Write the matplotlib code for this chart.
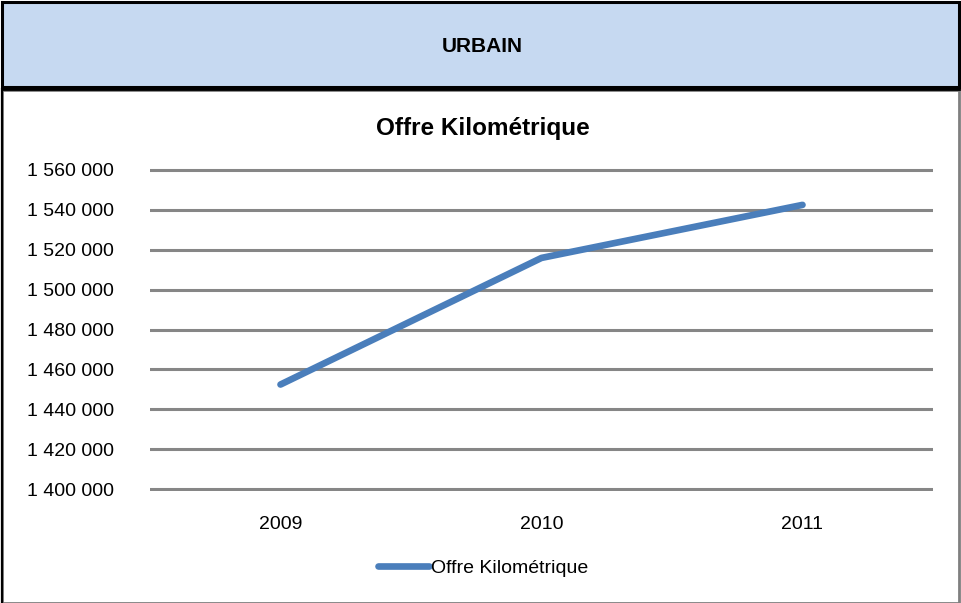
import matplotlib
matplotlib.use("Agg")
import matplotlib.pyplot as plt
from matplotlib.patches import Rectangle
from matplotlib.ticker import FuncFormatter

years = ["2009", "2010", "2011"]
offre_km = [1452400, 1515900, 1542500]
y_ticks = list(range(1400000, 1560001, 20000))

series_label = "Offre Kilométrique"
chart_title = "Offre Kilométrique"
header_text = "URBAIN"

plt.rcParams["font.family"] = ["Liberation Sans", "DejaVu Sans"]

fig = plt.figure(figsize=(9.62, 6.03), dpi=100)
W, H = 962, 603

# header band
fig.patches.append(Rectangle((2 / W, 1 - 87 / H), 957 / W, 85 / H, transform=fig.transFigure,
                             facecolor="#C6D9F1", edgecolor="black", linewidth=2.2, zorder=-5))
fig.text(482 / W, 1 - 47 / H, header_text, ha="center", va="center", fontsize=15, fontweight="bold")

# chart frame
fig.patches.append(Rectangle((2 / W, 0), 957 / W, 1 - 90 / H, transform=fig.transFigure,
                             facecolor="white", edgecolor="#7F7F7F", linewidth=2.0, zorder=-5))
fig.lines.append(plt.Line2D([2 / W, 959 / W], [1 - 89 / H, 1 - 89 / H], transform=fig.transFigure,
                            color="black", linewidth=2.0, zorder=-4))
fig.lines.append(plt.Line2D([2 / W, 2 / W], [0, 1 - 89 / H], transform=fig.transFigure,
                            color="black", linewidth=1.6, zorder=-4))

ax = fig.add_axes([150 / W, 1 - 491 / H, 783 / W, 323 / H])
x = list(range(len(years)))
ax.plot(x, offre_km, color="#4A7EBB", linewidth=4.8, solid_capstyle="round",
        solid_joinstyle="round", label=series_label, zorder=3)

ax.set_xlim(-0.5, len(years) - 0.5)
ax.set_ylim(1399000, 1561000)
ax.set_yticks(y_ticks)
ax.yaxis.set_major_formatter(FuncFormatter(lambda v, p: f"{int(v):,}".replace(",", " ")))
ax.set_xticks(x)
ax.set_xticklabels(years)
ax.tick_params(axis="y", length=0, pad=26, labelsize=14)
ax.tick_params(axis="x", length=0, pad=18, labelsize=14)
ax.grid(axis="y", color="#868686", linewidth=2.2)
ax.set_axisbelow(True)
for s in ax.spines.values():
    s.set_visible(False)
ax.patch.set_alpha(0)

fig.text(483 / W, 1 - 128 / H, chart_title, ha="center", va="center", fontsize=17.5, fontweight="bold")

leg = ax.legend(loc="center", bbox_to_anchor=(483 / W, 1 - 568 / H), bbox_transform=fig.transFigure,
                frameon=False, fontsize=14, handlelength=2.6, handletextpad=0.1)

fig.savefig("out.png", dpi=100)
